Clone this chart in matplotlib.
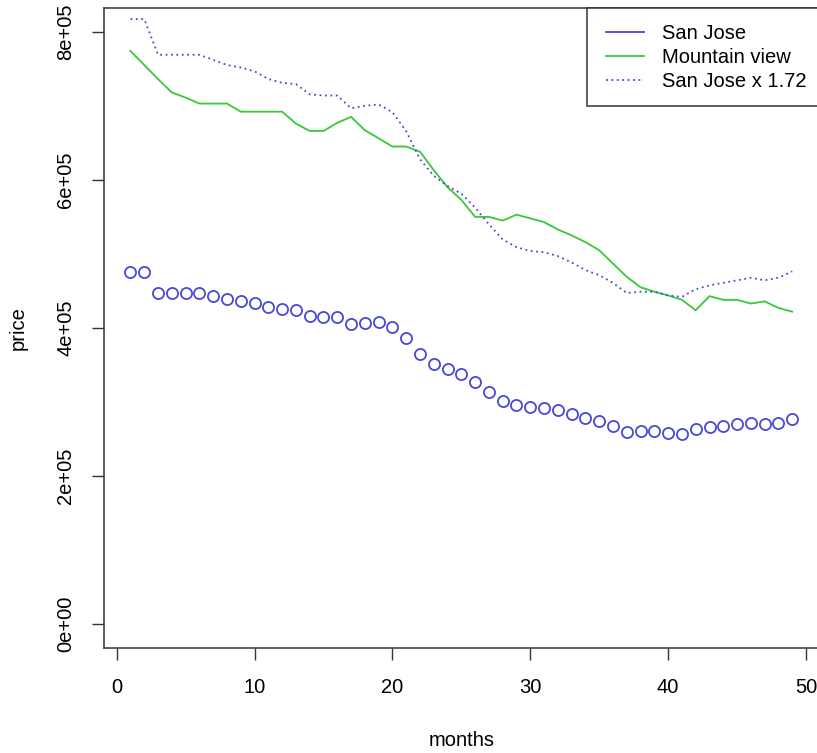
import numpy as np
import matplotlib
matplotlib.use("Agg")
import matplotlib.pyplot as plt
from matplotlib.patches import Rectangle

plt.rcParams['font.family'] = ['Liberation Sans', 'DejaVu Sans']

months = np.arange(1, 50)
san_jose = [4.75, 4.75, 4.47, 4.47, 4.47, 4.47, 4.43, 4.39, 4.37, 4.34,
            4.28, 4.25, 4.24, 4.16, 4.15, 4.15, 4.05, 4.07, 4.08, 4.02,
            3.87, 3.65, 3.52, 3.44, 3.38, 3.27, 3.14, 3.02, 2.96, 2.93,
            2.92, 2.89, 2.84, 2.78, 2.74, 2.68, 2.60, 2.61, 2.61, 2.58,
            2.57, 2.63, 2.66, 2.68, 2.70, 2.72, 2.70, 2.72, 2.77]
mountain_view = [7.74, 7.55, 7.36, 7.18, 7.11, 7.03, 7.03, 7.03, 6.92, 6.92,
                 6.92, 6.92, 6.76, 6.66, 6.66, 6.77, 6.85, 6.67, 6.56, 6.45,
                 6.45, 6.38, 6.13, 5.90, 5.73, 5.50, 5.50, 5.45, 5.53, 5.48,
                 5.43, 5.33, 5.25, 5.16, 5.05, 4.87, 4.69, 4.55, 4.49, 4.44,
                 4.38, 4.24, 4.43, 4.38, 4.38, 4.33, 4.36, 4.27, 4.22]
factor = 1.72
legend_labels = ['San Jose', 'Mountain view', 'San Jose x 1.72']
x_ticks = [0, 10, 20, 30, 40, 50]
y_ticks = [0, 200000, 400000, 600000, 800000]
y_tick_labels = ['0e+00', '2e+05', '4e+05', '6e+05', '8e+05']

sj = np.array(san_jose) * 1e5
mv = np.array(mountain_view) * 1e5

blue = '#4848d8'
green = '#38c838'
dotted = (0, (1, 2))
fs = 14.5

fig = plt.figure(figsize=(8.17, 7.53), dpi=100)
# plot region: left spine at 104px, top at 8px, bottom at 648px (right edge just off the image)
ax = fig.add_axes([104 / 817, 105 / 753, 714.7 / 817, 640 / 753])

ax.plot(months, sj, linestyle='none', marker='o', markersize=8,
        markerfacecolor='none', markeredgecolor=blue, markeredgewidth=1.3)
ax.plot(months, mv, color=green, lw=1.3)
ax.plot(months, sj * factor, color=blue, lw=1.3, linestyle=dotted)

ax.set_xlim(-0.92, 50.92)
ax.set_ylim(-32000, 832000)
ax.set_xticks(x_ticks)
ax.set_xticklabels([str(t) for t in x_ticks], fontsize=fs)
ax.set_yticks(y_ticks)
ax.set_yticklabels(y_tick_labels, fontsize=fs, rotation=90, va='center')
ax.tick_params(axis='both', length=8.6, width=1.0, color='#333333')
ax.tick_params(axis='x', pad=13)
ax.tick_params(axis='y', pad=12)
for s in ax.spines.values():
    s.set_linewidth(1.1)
    s.set_color('#333333')

ax.set_xlabel('months', fontsize=fs)
ax.xaxis.set_label_coords(0.5, -0.145)
ax.xaxis.label.set_verticalalignment('center')
ax.set_ylabel('price', fontsize=fs)
ax.yaxis.set_label_coords(-0.1203, 0.5)
ax.yaxis.label.set_verticalalignment('center')

# legend drawn by hand, R style (pixel positions -> axes fraction)
def px(x, y):
    return (x - 104) / 714.7, (648 - y) / 640

bx, by = px(587, 106)
ax.add_patch(Rectangle((bx, by), 1 - bx, 1 - by, transform=ax.transAxes,
                       facecolor='white', edgecolor='#333333', lw=1.1,
                       zorder=5, clip_on=False))
styles = [dict(color=blue), dict(color=green), dict(color=blue, linestyle=dotted)]
for i, (lab, st) in enumerate(zip(legend_labels, styles)):
    row = 32 + 24 * i
    x0, y0 = px(606, row)
    x1, _ = px(644, row)
    ax.plot([x0, x1], [y0, y0], transform=ax.transAxes, lw=1.3, zorder=6,
            clip_on=False, **st)
    tx, ty = px(662, row + 7)
    ax.text(tx, ty, lab, transform=ax.transAxes, fontsize=fs, ha='left',
            va='baseline', zorder=6)

fig.savefig('out.png', dpi=100)
